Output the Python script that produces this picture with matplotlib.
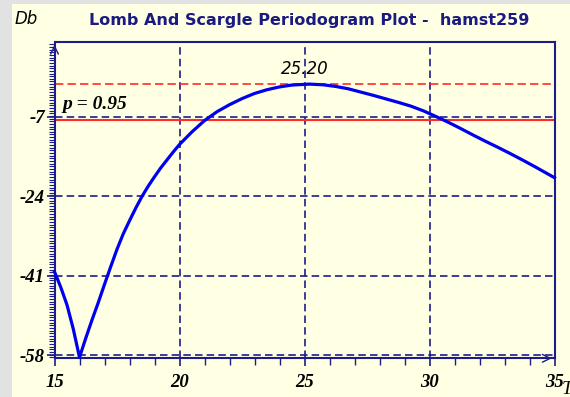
import matplotlib.pyplot as plt
from matplotlib.patches import Rectangle
from matplotlib.ticker import MultipleLocator, FixedLocator

# periodogram (period T, power in dB)
period = [15.0, 15.25, 15.5, 15.75, 16.0, 16.25, 16.5, 16.75, 17.0, 17.25, 17.5,
          17.75, 18.0, 18.25, 18.5, 18.75, 19.0, 19.25, 19.5, 19.75, 20.0, 20.5,
          21.0, 21.5, 22.0, 22.5, 23.0, 23.5, 24.0, 24.5, 25.2, 25.75, 26.25,
          26.75, 27.25, 27.75, 28.25, 28.75, 29.25, 29.75, 30.25, 30.75, 31.25,
          31.75, 32.25, 32.75, 33.25, 33.75, 34.25, 34.75, 35.0]
power_db = [-40.1, -43.4, -47.2, -52.3, -58.4, -54.3, -50.4, -46.7, -42.8, -39.0, -35.3,
            -32.0, -29.2, -26.5, -24.0, -21.8, -19.8, -17.9, -16.2, -14.5, -12.9, -10.2,
            -7.8, -5.9, -4.4, -3.1, -2.0, -1.2, -0.6, -0.2, 0.0, -0.15, -0.5,
            -1.0, -1.7, -2.4, -3.15, -3.9, -4.7, -5.7, -6.9, -8.15, -9.5,
            -10.9, -12.25, -13.55, -14.9, -16.3, -17.75, -19.25, -20.0]
y_ticks = [-58, -41, -24, -7]
x_ticks = [15, 20, 25, 30, 35]
peak_period = 25.20
peak_level = 0.0
p95_level = -7.7

W, H = 570, 397
navy = '#1c1c8a'
yellow = '#FFFFE3'
gray = '#E2E2E2'

fig = plt.figure(figsize=(W / 100, H / 100), dpi=100, facecolor=gray)
fig.patches.append(Rectangle((12 / W, 0), 1 - 12 / W, 1 - 4 / H, transform=fig.transFigure,
                             facecolor=yellow, edgecolor='none', zorder=-10))

ax = fig.add_axes([54.5 / W, 1 - 358.3 / H, 500 / W, (358.3 - 42) / H])
ax.set_facecolor(yellow)
ax.set_xlim(15, 35)
ax.set_ylim(-58.6, 9.0)

for s in ax.spines.values():
    s.set_color(navy)
    s.set_linewidth(1.5)

# grid
for xv in x_ticks[1:-1]:
    ax.axvline(xv, color=navy, lw=1.2, ls=(0, (4.5, 2.5)), zorder=1)
for yv in y_ticks:
    ax.axhline(yv, color=navy, lw=1.2, ls=(0, (4.5, 2.5)), zorder=1)

# significance lines
ax.axhline(peak_level, color='#FF2A2A', lw=1.2, ls=(0, (5, 2.5)), zorder=2)
ax.axhline(p95_level, color='#FF2A2A', lw=1.5, zorder=2)

ax.plot(period, power_db, color='#0000F0', lw=2.3, zorder=3, clip_on=False)

ax.xaxis.set_major_locator(FixedLocator(x_ticks))
ax.xaxis.set_minor_locator(MultipleLocator(1))
ax.yaxis.set_major_locator(FixedLocator(y_ticks))
ax.yaxis.set_minor_locator(MultipleLocator(17 / 30))
ax.tick_params(which='both', direction='out', color=navy)
ax.tick_params(axis='x', which='major', length=6, width=1.2, pad=5)
ax.tick_params(axis='x', which='minor', length=5, width=1.0)
ax.tick_params(axis='y', which='major', length=6, width=1.2, pad=1)
ax.tick_params(axis='y', which='minor', length=4, width=0.8)
tick_font = dict(family='Liberation Serif', weight='bold', style='italic', size=13.5)
ax.set_xticklabels([str(v) for v in x_ticks], **tick_font)
ax.set_yticklabels([str(v) for v in y_ticks], **tick_font)

# axis arrows
ax.annotate('', xy=(35, -58.6), xytext=(34.3, -58.6), annotation_clip=False,
            arrowprops=dict(arrowstyle='->', color=navy, lw=1.0, mutation_scale=14))
ax.annotate('', xy=(15, 9.0), xytext=(15, 6.5), annotation_clip=False,
            arrowprops=dict(arrowstyle='->', color=navy, lw=1.0, mutation_scale=14))

ax.text(25.0, 1.2, f'{peak_period:.2f}', ha='center', va='bottom',
        fontsize=12, style='italic', family='DejaVu Sans')
ax.text(15.3, p95_level + 1.5, 'p = 0.95', ha='left', va='bottom',
        fontsize=14, style='italic', weight='bold', family='Liberation Serif')

fig.text(309 / W, 1 - 20 / H, 'Lomb And Scargle Periodogram Plot -  hamst259',
         ha='center', va='center', color='#1a1a80', fontsize=11.5, weight='bold',
         family='DejaVu Sans')
fig.text(15 / W, 1 - 19 / H, 'Db', ha='left', va='center', fontsize=12,
         style='italic', family='DejaVu Sans')
fig.text(562 / W, 1 - 381 / H, 'T', ha='left', va='top', fontsize=14,
         style='italic', family='Liberation Serif')

fig.savefig('out.png', dpi=100, facecolor=gray)
